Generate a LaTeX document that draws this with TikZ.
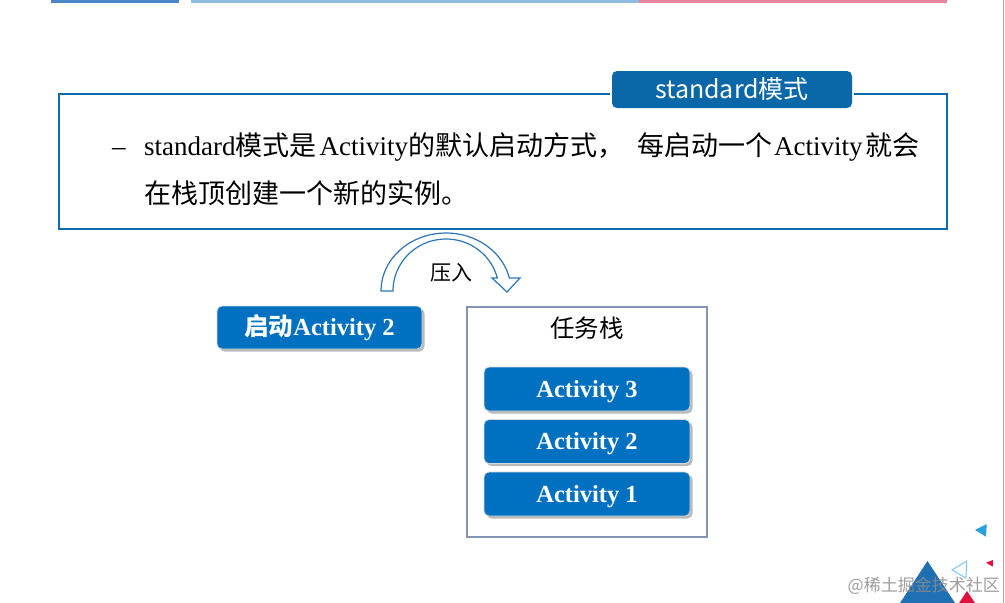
\documentclass[tikz,border=0pt]{standalone}
\usepackage{fontspec}
\setmainfont{Liberation Serif}
\newfontfamily\cjk{Noto Sans CJK SC}
\usetikzlibrary{shadows}
\definecolor{frameblue}{HTML}{0E6AAC}
\definecolor{headblue}{HTML}{0B68A8}
\definecolor{actblue}{HTML}{0070C0}
\definecolor{stackgray}{HTML}{8395B0}
\definecolor{arrowblue}{HTML}{2E75B6}
\definecolor{stripA}{HTML}{4A86C8}
\definecolor{stripB}{HTML}{8FBBDC}
\definecolor{stripC}{HTML}{E8849F}
\definecolor{triblue}{HTML}{1F6FB5}
\definecolor{trilight}{HTML}{29A0E0}
\definecolor{trired}{HTML}{E0103F}
\tikzset{
  actbox/.style={rounded corners=5pt, fill=actblue, draw=black!15, line width=0.8pt,
    minimum width=206pt, minimum height=44pt, inner sep=0pt, text=white,
    text height=16.5pt, text depth=0pt,
    font=\fontsize{24.5}{28}\selectfont\bfseries,
    drop shadow={shadow xshift=2.5pt, shadow yshift=-2.5pt, opacity=.45, fill=black!60}},
  headbox/.style={rounded corners=5pt, fill=headblue, draw=none, text=white,
    minimum width=240pt, minimum height=37pt, inner sep=0pt,
    font=\cjk\fontsize{25}{28}\selectfont},
  bodytext/.style={anchor=base west, inner sep=0pt, font=\fontsize{27}{32}\selectfont},
  stackbox/.style={draw=stackgray, line width=1.6pt, fill=white},
  frameline/.style={draw=frameblue, line width=2pt},
  bendarrow/.style={draw=arrowblue, fill=white, line width=1.2pt, line join=miter}
}
\begin{document}
\begin{tikzpicture}[x=1pt,y=-1pt]
\useasboundingbox (0,0) rectangle (1005,603);
\fill[white] (0,0) rectangle (1005,603);
% top strips
\fill[stripA] (51,0) rectangle (179,2.5);
\fill[stripB] (191,0) rectangle (639,2.5);
\fill[stripC] (639,0) rectangle (947,2.5);
\draw[black!35, line width=1.5pt] (1003.5,0) -- (1003.5,603);

% main frame
\coordinate (fL) at (610,94);
\coordinate (fTL) at (59,94);
\coordinate (fBL) at (59,229);
\coordinate (fBR) at (947,229);
\coordinate (fTR) at (947,94);
\coordinate (fR) at (854,94);
\draw[frameline] (fL) -- (fTL) -- (fBL) -- (fBR) -- (fTR) -- (fR);
\node[headbox] (head) at (732,89.5) {standard模式};

% body text
\node[bodytext] (dash) at (112,155) {–};
\node[bodytext] (line1) at (144,155) {standard{\cjk 模式是}\hspace{3pt}Activity{\cjk 的默认启动方式，}\hspace{13pt}{\cjk 每启动一个}\hspace{2pt}Activity\hspace{3pt}{\cjk 就会}};
\node[bodytext] (line2) at (144,203) {\cjk 在栈顶创建一个新的实例。};

% curved arrow
\filldraw[bendarrow] (381,291) -- plot[domain=180:13,samples=50] ({446+65*cos(\x)},{291-58*sin(\x)})
  -- (520,278) -- (507,292) -- (492,278)
  -- plot[domain=14.5:180,samples=50] ({446+53*cos(\x)},{291-52*sin(\x)}) -- cycle;
\node[font=\cjk\fontsize{21}{24}\selectfont, inner sep=0pt] (push) at (451,273) {压入};

% start node
\node[actbox, minimum width=205pt, minimum height=43pt] (start) at (319.5,327.5) {{\cjk\bfseries 启动}Activity 2};

% task stack
\draw[stackbox] (467,307) rectangle (707,537);
\node[font=\cjk\fontsize{24.5}{28}\selectfont, inner sep=0pt] (stacklabel) at (587,328) {任务栈};
\node[actbox] (a3) at (587,389) {Activity 3};
\node[actbox] (a2) at (587,441.5) {Activity 2};
\node[actbox] (a1) at (587,494) {Activity 1};

% decoration bottom right
\fill[trilight] (975,530) -- (986.7,524) -- (986,536.7) -- cycle;
\draw[trilight!60, line width=1pt] (952,570) -- (966.7,561) -- (966,578) -- cycle;
\fill[trired] (986,562.7) -- (993,560) -- (992.7,566.7) -- cycle;
\fill[triblue] (927.5,561) -- (955,603) -- (900,603) -- cycle;
\fill[trired] (967,591) -- (975,603) -- (959,603) -- cycle;
\node[anchor=east, inner sep=0pt, text=black!45, opacity=.85, font=\cjk\fontsize{17}{20}\selectfont] (wm) at (1000,586) {@稀土掘金技术社区};
\end{tikzpicture}
\end{document}
